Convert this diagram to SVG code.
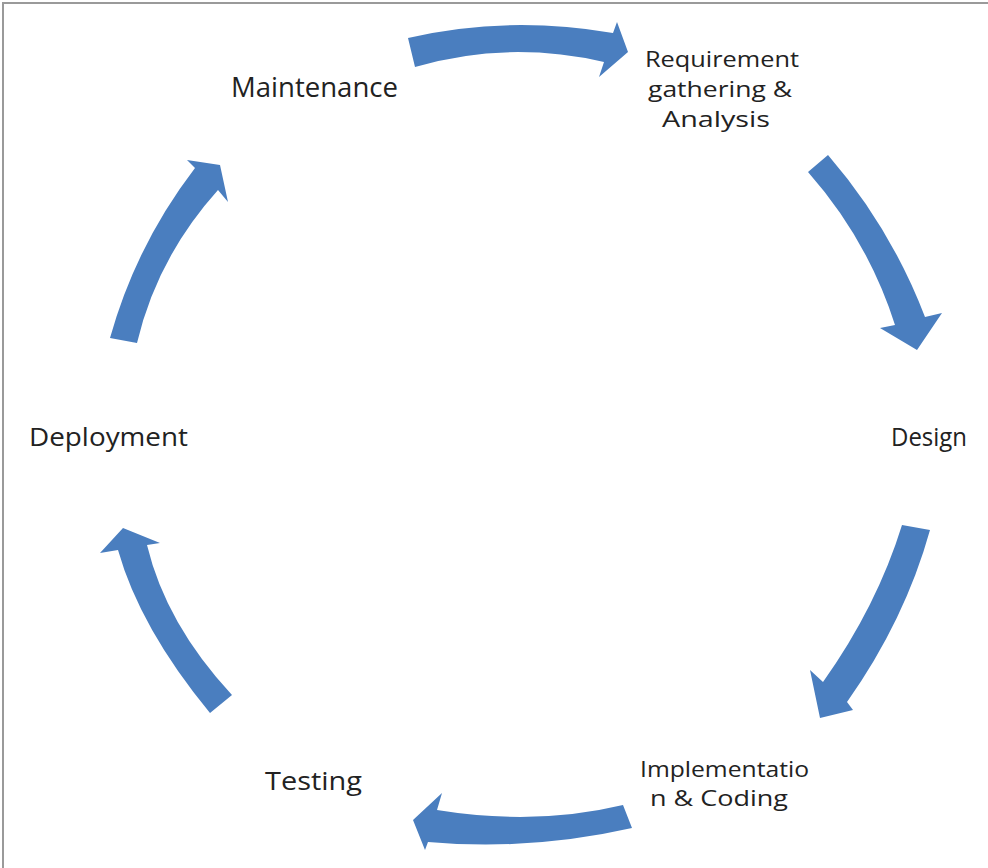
<svg xmlns="http://www.w3.org/2000/svg" width="988" height="868" viewBox="0 0 988 868">
<style>
.lbl{font-family:"Open Sans","Liberation Sans",sans-serif;fill:#222;font-size:25px}
.ml{font-size:22px}
.arr{fill:#4a7ebf}
.frame{stroke:#9a9a9a;stroke-width:2;fill:none}
</style>
<rect x="0" y="0" width="988" height="868" fill="#fff"/>
<path class="frame" d="M3,868 L3,3 L988,3"/>
<g id="connectors">
<path class="arr" d="M408,38 Q507,15 613,33 L617,22 L628,52 L599,77 L604,62 Q507,40 415,67 Z"/>
<path class="arr" d="M828,155 Q891,228 925,317 L942,313 L917,350 L880,328 L895,325 Q868,240 808,172 Z"/>
<path class="arr" d="M930,530 Q905,620 847,702 L853,710 L820,718 L810,670 L823,682 Q877,606 902,525 Z"/>
<path class="arr" d="M632,828 Q531,851 428,842 L425,850 L413,820 L442,793 L437,810 Q536,826 623,805 Z"/>
<path class="arr" d="M210,713 Q140,628 118,550 L100,553 L123,528 L160,543 L147,545 Q166,624 232,695 Z"/>
<path class="arr" d="M110,338 Q136,245 195,168 L187,160 L220,165 L228,202 L218,190 Q157,258 137,343 Z"/>
</g>
<g id="maintenance"><text class="lbl" x="231" y="97" textLength="167" lengthAdjust="spacingAndGlyphs" style="font-size:27px">Maintenance</text></g>
<g id="requirement">
<text class="lbl ml" x="645" y="67" textLength="154" lengthAdjust="spacingAndGlyphs">Requirement</text>
<text class="lbl ml" x="648" y="97" textLength="144" lengthAdjust="spacingAndGlyphs">gathering &amp;</text>
<text class="lbl ml" x="662" y="127" textLength="108" lengthAdjust="spacingAndGlyphs">Analysis</text>
</g>
<g id="design"><text class="lbl" x="891" y="446" textLength="76" lengthAdjust="spacingAndGlyphs">Design</text></g>
<g id="implementation">
<text class="lbl ml" x="640" y="777" textLength="169" lengthAdjust="spacingAndGlyphs">Implementatio</text>
<text class="lbl ml" x="650" y="806" textLength="138" lengthAdjust="spacingAndGlyphs">n &amp; Coding</text>
</g>
<g id="testing"><text class="lbl" x="265" y="790" textLength="97" lengthAdjust="spacingAndGlyphs">Testing</text></g>
<g id="deployment"><text class="lbl" x="29" y="446" textLength="159" lengthAdjust="spacingAndGlyphs">Deployment</text></g>
</svg>
